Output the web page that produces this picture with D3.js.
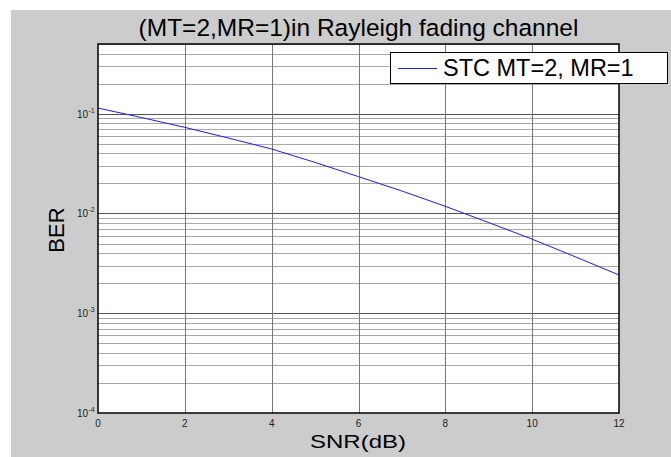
<!DOCTYPE html>
<html>
<head>
<meta charset="utf-8">
<script src="https://cdn.jsdelivr.net/npm/d3@7"></script>
<style>
  body { margin: 0; background: #fff; }
  text { font-family: "Liberation Sans", Arial, sans-serif; }
</style>
</head>
<body>
<script>
  // values
  let snr = [0, 1, 2, 3, 4, 5, 6, 7, 8, 9, 10, 11, 12];
  let ber = [0.114, 0.0916, 0.073, 0.0571, 0.0443, 0.0325, 0.0234, 0.0168, 0.0118, 0.0081, 0.00553, 0.00367, 0.00242];
  let xTicks = [0, 2, 4, 6, 8, 10, 12];
  let yDecades = [-4, -3, -2, -1];
  let titleText = "(MT=2,MR=1)in Rayleigh fading channel";
  let legendText = "STC MT=2, MR=1";

(function() {
  let W = 671, H = 457;
  let pLeft = 98, pRight = 619, pTop = 44, pBottom = 413;

  let svg = d3.select("body").append("svg")
    .attr("width", W)
    .attr("height", H);

  // figure background
  svg.append("rect")
    .attr("x", 11).attr("y", 10)
    .attr("width", W - 11).attr("height", H - 10)
    .attr("fill", "#cccccc");

  let xScale = d3.scaleLinear().domain([0, 12]).range([pLeft, pRight]);
  let yScale = d3.scaleLog().domain([1e-4, 0.5]).range([pBottom, pTop]);

  // axes background
  svg.append("rect")
    .attr("x", pLeft).attr("y", pTop)
    .attr("width", pRight - pLeft).attr("height", pBottom - pTop)
    .attr("fill", "#fff");

  // minor horizontal grid
  let minor = [];
  for (let e = -4; e <= -1; e++) {
    for (let m = 2; m <= 9; m++) {
      let v = m * Math.pow(10, e);
      if (v <= 0.5) minor.push(v);
    }
  }
  svg.append("g").selectAll("line")
    .data(minor)
    .enter()
    .append("line")
      .attr("x1", pLeft).attr("x2", pRight)
      .attr("y1", (d) => Math.round(yScale(d)) + 0.5)
      .attr("y2", (d) => Math.round(yScale(d)) + 0.5)
      .attr("stroke", "#a8a8a8")
      .attr("stroke-width", 1);

  // major horizontal grid
  svg.append("g").selectAll("line")
    .data(yDecades.slice(1))
    .enter()
    .append("line")
      .attr("x1", pLeft).attr("x2", pRight)
      .attr("y1", (d) => Math.round(yScale(Math.pow(10, d))) + 0.5)
      .attr("y2", (d) => Math.round(yScale(Math.pow(10, d))) + 0.5)
      .attr("stroke", "#555")
      .attr("stroke-width", 1);

  // vertical grid
  svg.append("g").selectAll("line")
    .data(xTicks.slice(1, -1))
    .enter()
    .append("line")
      .attr("x1", (d) => Math.round(xScale(d)) + 0.5)
      .attr("x2", (d) => Math.round(xScale(d)) + 0.5)
      .attr("y1", pTop).attr("y2", pBottom)
      .attr("stroke", "#777")
      .attr("stroke-width", 1);

  // curve
  let line = d3.line()
    .x((d, i) => xScale(snr[i]))
    .y((d) => yScale(d));

  svg.append("path")
    .datum(ber)
    .attr("d", line)
    .attr("fill", "none")
    .attr("stroke", "#1a1aff")
    .attr("stroke-width", 1);

  // box
  svg.append("rect")
    .attr("x", pLeft).attr("y", pTop)
    .attr("width", pRight - pLeft).attr("height", pBottom - pTop)
    .attr("fill", "none")
    .attr("stroke", "#000")
    .attr("stroke-width", 1.5);

  // x tick labels
  svg.append("g").selectAll("text")
    .data(xTicks)
    .enter()
    .append("text")
      .attr("x", (d) => xScale(d))
      .attr("y", 427)
      .attr("text-anchor", "middle")
      .style("font-size", "10px")
      .attr("fill", "#222")
      .text((d) => d);

  // y tick labels 10^e
  svg.append("g").selectAll("text")
    .data(yDecades)
    .enter()
    .append("text")
      .attr("x", 88)
      .attr("y", (d) => yScale(Math.pow(10, d)) + 4)
      .attr("text-anchor", "end")
      .style("font-size", "10px")
      .attr("fill", "#222")
      .text("10");
  svg.append("g").selectAll("text")
    .data(yDecades)
    .enter()
    .append("text")
      .attr("x", 88.5)
      .attr("y", (d) => yScale(Math.pow(10, d)) - 1)
      .style("font-size", "7px")
      .attr("fill", "#222")
      .text((d) => d);

  // title
  svg.append("text")
    .attr("x", (pLeft + pRight) / 2)
    .attr("y", 36)
    .attr("text-anchor", "middle")
    .style("font-size", "24.5px")
    .text(titleText);

  // axis labels
  svg.append("text")
    .attr("x", 310)
    .attr("y", 448)
    .attr("textLength", 96)
    .attr("lengthAdjust", "spacingAndGlyphs")
    .style("font-size", "19px")
    .text("SNR(dB)");

  svg.append("text")
    .attr("transform", "translate(64, 230) rotate(-90)")
    .attr("text-anchor", "middle")
    .style("font-size", "22px")
    .text("BER");

  // legend
  svg.append("rect")
    .attr("x", 390.5).attr("y", 52.5)
    .attr("width", 277).attr("height", 31)
    .attr("fill", "#fff")
    .attr("stroke", "#000")
    .attr("stroke-width", 1);

  svg.append("line")
    .attr("x1", 398).attr("x2", 437)
    .attr("y1", 68.5).attr("y2", 68.5)
    .attr("stroke", "#1a1aff")
    .attr("stroke-width", 1);

  svg.append("text")
    .attr("x", 443)
    .attr("y", 76)
    .style("font-size", "23.5px")
    .text(legendText);
})();
</script>
</body>
</html>
